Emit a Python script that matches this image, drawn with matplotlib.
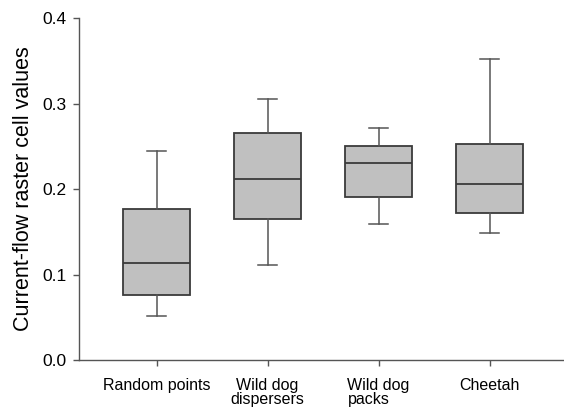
import matplotlib.pyplot as plt

plt.rcParams['font.family'] = ['Liberation Sans', 'DejaVu Sans']

# box statistics
groups = ['Random points', 'Wild dog\ndispersers', 'Wild dog\npacks', 'Cheetah']
whislo = [0.052, 0.111, 0.159, 0.149]
q1 = [0.076, 0.165, 0.191, 0.172]
med = [0.114, 0.212, 0.231, 0.206]
q3 = [0.177, 0.266, 0.250, 0.253]
whishi = [0.245, 0.305, 0.271, 0.352]


def main():
    stats = []
    for i in range(len(groups)):
        stats.append({'label': groups[i], 'whislo': whislo[i], 'q1': q1[i],
                      'med': med[i], 'q3': q3[i], 'whishi': whishi[i], 'fliers': []})

    fig = plt.figure(figsize=(5.64, 4.08), dpi=100)
    ax = fig.add_axes([0.140, 0.1176, 0.86, 0.838])

    edge = '#3a3a3a'
    ax.bxp(stats, positions=[1, 2, 3, 4], widths=0.6, capwidths=0.17,
           patch_artist=True, showfliers=False,
           boxprops=dict(facecolor='#c0c0c0', edgecolor=edge, linewidth=1.3),
           medianprops=dict(color=edge, linewidth=1.3),
           whiskerprops=dict(color='#555555', linewidth=1.1),
           capprops=dict(color='#555555', linewidth=1.1))

    ax.set_xlim(0.30, 4.67)
    ax.set_ylim(0, 0.4)
    ax.set_yticks([0.0, 0.1, 0.2, 0.3, 0.4])
    ax.set_yticklabels(['0.0', '0.1', '0.2', '0.3', '0.4'], fontsize=12.5)
    ax.set_xticks([1, 2, 3, 4])
    ax.set_xticklabels(groups, fontsize=11.5, linespacing=0.95)
    ax.get_xticklabels()[2].set_multialignment('left')

    ax.set_ylabel('Current-flow raster cell values', fontsize=15.5, labelpad=6)

    for s in ['top', 'right']:
        ax.spines[s].set_visible(False)
    for s in ['left', 'bottom']:
        ax.spines[s].set_color('#555555')
        ax.spines[s].set_linewidth(1.0)
    ax.tick_params(color='#555555', length=4, width=1.0)
    ax.tick_params(axis='y', pad=5)
    ax.tick_params(axis='x', pad=9)

    fig.savefig('out.png', dpi=100)


if __name__ == '__main__':
    main()
